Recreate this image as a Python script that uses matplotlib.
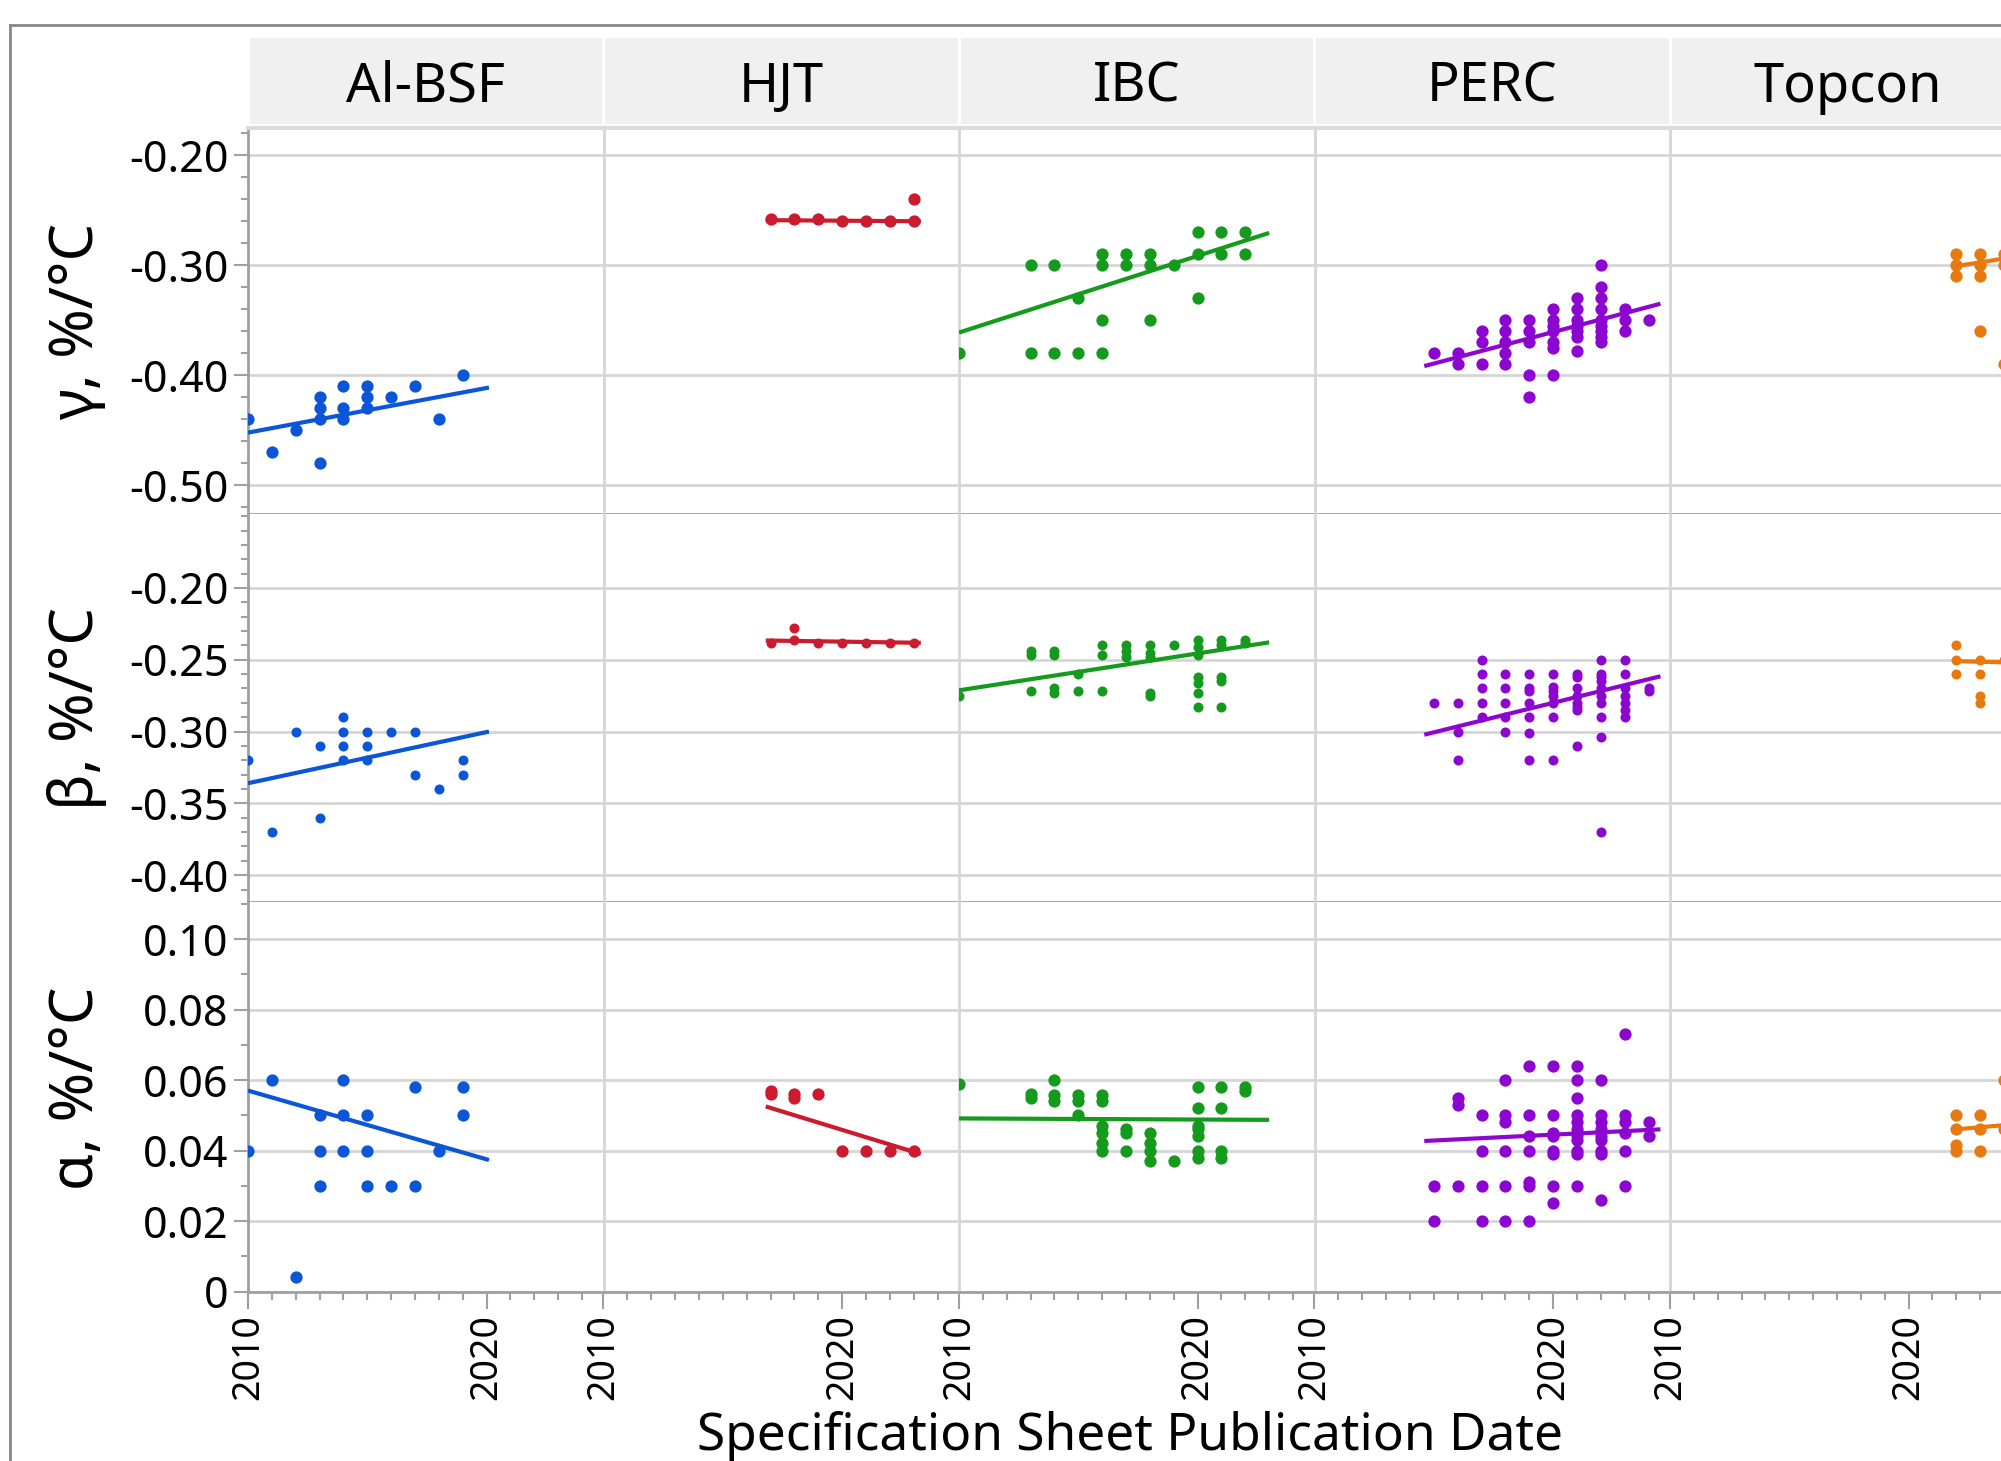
import matplotlib.pyplot as plt
from matplotlib.lines import Line2D
from matplotlib.ticker import MultipleLocator, FixedLocator

plt.rcParams['font.family'] = ['Noto Sans', 'DejaVu Sans']

techs = ['Al-BSF', 'HJT', 'IBC', 'PERC', 'Topcon']
colors = ['#0a56d6', '#cc1a2e', '#149a1c', '#8d06cf', '#e8790c']
row_labels = ['γ, %/°C', 'β, %/°C', 'α, %/°C']

# ---- gamma (Pmax temp. coefficient) ----
albsf_gamma_x = [2010, 2011, 2012, 2013, 2013, 2013, 2013, 2014, 2014, 2014, 2015, 2015, 2015, 2016, 2017, 2018, 2019]
albsf_gamma_y = [-0.44, -0.47, -0.45, -0.42, -0.43, -0.44, -0.48, -0.41, -0.43, -0.44, -0.41, -0.42, -0.43, -0.42, -0.41, -0.44, -0.40]
hjt_gamma_x = [2017, 2018, 2019, 2020, 2021, 2022, 2023, 2023]
hjt_gamma_y = [-0.258, -0.258, -0.258, -0.26, -0.26, -0.26, -0.26, -0.24]
ibc_gamma_x = [2010, 2013, 2013, 2014, 2014, 2015, 2015, 2016, 2016, 2016, 2016, 2017, 2017,
               2018, 2018, 2018, 2019, 2020, 2020, 2020, 2021, 2021, 2022, 2022]
ibc_gamma_y = [-0.38, -0.30, -0.38, -0.30, -0.38, -0.33, -0.38, -0.29, -0.30, -0.35, -0.38, -0.29, -0.30,
               -0.29, -0.30, -0.35, -0.30, -0.27, -0.29, -0.33, -0.27, -0.29, -0.27, -0.29]
perc_gamma_x = [2015, 2016, 2016, 2017, 2017, 2017, 2018, 2018, 2018, 2018, 2018,
                2019, 2019, 2019, 2019, 2019, 2020, 2020, 2020, 2020, 2020, 2020, 2020,
                2021, 2021, 2021, 2021, 2021, 2021, 2021,
                2022, 2022, 2022, 2022, 2022, 2022, 2022, 2022, 2022,
                2023, 2023, 2023, 2024]
perc_gamma_y = [-0.38, -0.38, -0.39, -0.36, -0.37, -0.39, -0.35, -0.36, -0.37, -0.38, -0.39,
                -0.35, -0.36, -0.37, -0.40, -0.42, -0.34, -0.35, -0.355, -0.36, -0.37, -0.375, -0.40,
                -0.33, -0.34, -0.35, -0.355, -0.36, -0.365, -0.378,
                -0.30, -0.32, -0.33, -0.34, -0.35, -0.355, -0.36, -0.365, -0.37,
                -0.34, -0.35, -0.36, -0.35]
topcon_gamma_x = [2022, 2022, 2022, 2023, 2023, 2023, 2023, 2024, 2024, 2024]
topcon_gamma_y = [-0.29, -0.30, -0.31, -0.29, -0.30, -0.31, -0.36, -0.29, -0.30, -0.39]

# ---- beta (Voc temp. coefficient) ----
albsf_beta_x = [2010, 2011, 2012, 2013, 2013, 2014, 2014, 2014, 2014, 2015, 2015, 2015, 2016, 2017, 2017, 2018, 2019, 2019]
albsf_beta_y = [-0.32, -0.37, -0.30, -0.31, -0.36, -0.29, -0.30, -0.31, -0.32, -0.30, -0.31, -0.32, -0.30, -0.30, -0.33, -0.34, -0.32, -0.33]
hjt_beta_x = [2017, 2018, 2018, 2019, 2020, 2021, 2022, 2023]
hjt_beta_y = [-0.238, -0.236, -0.228, -0.238, -0.238, -0.238, -0.238, -0.238]
ibc_beta_x = [2010, 2013, 2013, 2013, 2014, 2014, 2014, 2014, 2015, 2015, 2016, 2016, 2016,
              2017, 2017, 2017, 2018, 2018, 2018, 2018, 2018, 2019,
              2020, 2020, 2020, 2020, 2020, 2020, 2020, 2021, 2021, 2021, 2021, 2021, 2022, 2022]
ibc_beta_y = [-0.275, -0.244, -0.247, -0.272, -0.244, -0.247, -0.270, -0.273, -0.260, -0.272, -0.240, -0.247, -0.272,
              -0.240, -0.244, -0.248, -0.240, -0.245, -0.248, -0.273, -0.275, -0.240,
              -0.236, -0.241, -0.247, -0.262, -0.266, -0.273, -0.283, -0.236, -0.240, -0.262, -0.265, -0.283, -0.236, -0.238]
perc_beta_x = [2015, 2016, 2016, 2016, 2017, 2017, 2017, 2017, 2017, 2018, 2018, 2018, 2018, 2018,
               2019, 2019, 2019, 2019, 2019, 2019, 2019, 2020, 2020, 2020, 2020, 2020, 2020, 2020,
               2021, 2021, 2021, 2021, 2021, 2021, 2021, 2021,
               2022, 2022, 2022, 2022, 2022, 2022, 2022, 2022, 2022, 2022,
               2023, 2023, 2023, 2023, 2023, 2023, 2023, 2024, 2024]
perc_beta_y = [-0.28, -0.28, -0.30, -0.32, -0.25, -0.26, -0.27, -0.28, -0.29, -0.26, -0.27, -0.28, -0.29, -0.30,
               -0.26, -0.27, -0.272, -0.28, -0.29, -0.301, -0.32, -0.26, -0.269, -0.272, -0.275, -0.28, -0.29, -0.32,
               -0.26, -0.262, -0.27, -0.275, -0.28, -0.283, -0.285, -0.31,
               -0.25, -0.26, -0.262, -0.265, -0.27, -0.275, -0.28, -0.29, -0.304, -0.37,
               -0.25, -0.26, -0.27, -0.275, -0.28, -0.285, -0.29, -0.27, -0.272]
topcon_beta_x = [2022, 2022, 2022, 2023, 2023, 2023, 2023, 2024]
topcon_beta_y = [-0.24, -0.25, -0.26, -0.25, -0.26, -0.275, -0.28, -0.25]

# ---- alpha (Isc temp. coefficient) ----
albsf_alpha_x = [2010, 2011, 2012, 2013, 2013, 2013, 2014, 2014, 2014, 2015, 2015, 2015, 2016, 2017, 2017, 2018, 2019, 2019]
albsf_alpha_y = [0.04, 0.06, 0.004, 0.05, 0.04, 0.03, 0.06, 0.05, 0.04, 0.05, 0.04, 0.03, 0.03, 0.058, 0.03, 0.04, 0.058, 0.05]
hjt_alpha_x = [2017, 2017, 2018, 2018, 2019, 2020, 2021, 2022, 2023]
hjt_alpha_y = [0.057, 0.056, 0.056, 0.055, 0.056, 0.04, 0.04, 0.04, 0.04]
ibc_alpha_x = [2010, 2013, 2013, 2014, 2014, 2014, 2015, 2015, 2015, 2016, 2016, 2016, 2016, 2016, 2016,
               2017, 2017, 2017, 2018, 2018, 2018, 2018, 2019,
               2020, 2020, 2020, 2020, 2020, 2020, 2020, 2021, 2021, 2021, 2021, 2022, 2022]
ibc_alpha_y = [0.059, 0.056, 0.055, 0.060, 0.0557, 0.054, 0.0557, 0.054, 0.050, 0.0557, 0.054, 0.047, 0.045, 0.042, 0.040,
               0.046, 0.045, 0.040, 0.045, 0.042, 0.040, 0.037, 0.037,
               0.058, 0.052, 0.047, 0.046, 0.044, 0.040, 0.038, 0.058, 0.052, 0.040, 0.038, 0.058, 0.057]
perc_alpha_x = [2015, 2015, 2016, 2016, 2016, 2017, 2017, 2017, 2017, 2018, 2018, 2018, 2018, 2018, 2018,
                2019, 2019, 2019, 2019, 2019, 2019, 2019, 2020, 2020, 2020, 2020, 2020, 2020, 2020, 2020,
                2021, 2021, 2021, 2021, 2021, 2021, 2021, 2021, 2021, 2021, 2021,
                2022, 2022, 2022, 2022, 2022, 2022, 2022, 2022, 2022,
                2023, 2023, 2023, 2023, 2023, 2023, 2024, 2024]
perc_alpha_y = [0.03, 0.02, 0.055, 0.053, 0.03, 0.05, 0.04, 0.03, 0.02, 0.06, 0.05, 0.048, 0.04, 0.03, 0.02,
                0.064, 0.05, 0.044, 0.04, 0.031, 0.03, 0.02, 0.064, 0.05, 0.045, 0.044, 0.04, 0.039, 0.03, 0.025,
                0.064, 0.06, 0.055, 0.05, 0.048, 0.046, 0.0445, 0.043, 0.04, 0.039, 0.03,
                0.06, 0.05, 0.048, 0.046, 0.044, 0.043, 0.04, 0.039, 0.026,
                0.073, 0.05, 0.048, 0.045, 0.04, 0.03, 0.048, 0.044]
topcon_alpha_x = [2022, 2022, 2022, 2022, 2023, 2023, 2023, 2024, 2024]
topcon_alpha_y = [0.05, 0.046, 0.0415, 0.04, 0.05, 0.046, 0.04, 0.06, 0.046]

# linear fit lines (start year, end year, start value, end value)
fit_gamma = [(2010, 2020.1, -0.452, -0.411), (2016.8, 2023.3, -0.2588, -0.2598), (2010, 2023.0, -0.361, -0.2704),
             (2014.6, 2024.5, -0.3915, -0.3348), (2022, 2024.5, -0.3006, -0.292)]
fit_beta = [(2010, 2020.1, -0.336, -0.300), (2016.8, 2023.3, -0.2366, -0.2382), (2010, 2023.0, -0.2713, -0.2379),
            (2014.6, 2024.5, -0.3022, -0.2615), (2022, 2024.5, -0.251, -0.252)]
fit_alpha = [(2010, 2020.1, 0.057, 0.0373), (2016.8, 2023.3, 0.0525, 0.0390), (2010, 2023.0, 0.0491, 0.0487),
             (2014.6, 2024.5, 0.0427, 0.046), (2022, 2024.5, 0.046, 0.0475)]

rows = [
    [(albsf_gamma_x, albsf_gamma_y), (hjt_gamma_x, hjt_gamma_y), (ibc_gamma_x, ibc_gamma_y),
     (perc_gamma_x, perc_gamma_y), (topcon_gamma_x, topcon_gamma_y)],
    [(albsf_beta_x, albsf_beta_y), (hjt_beta_x, hjt_beta_y), (ibc_beta_x, ibc_beta_y),
     (perc_beta_x, perc_beta_y), (topcon_beta_x, topcon_beta_y)],
    [(albsf_alpha_x, albsf_alpha_y), (hjt_alpha_x, hjt_alpha_y), (ibc_alpha_x, ibc_alpha_y),
     (perc_alpha_x, perc_alpha_y), (topcon_alpha_x, topcon_alpha_y)],
]
fits = [fit_gamma, fit_beta, fit_alpha]

ylims = [(-0.526, -0.175), (-0.4187, -0.1485), (0.0, 0.1105)]
yticks = [[-0.50, -0.40, -0.30, -0.20],
          [-0.40, -0.35, -0.30, -0.25, -0.20],
          [0.0, 0.02, 0.04, 0.06, 0.08, 0.10]]
yminor = [0.02, 0.01, 0.01]
msize = [78, 52, 78]

W, H = 2001, 1461
fig = plt.figure(figsize=(W / 100, H / 100), dpi=100)

col_left = [248, 603.5, 959, 1314.5, 1670]
col_w = 355.5
row_top = [128, 514, 902]
row_h = [386, 388, 389.5]

grid_c = '#d6d6d6'
dark_c = '#a0a0a0'

for r in range(3):
    for c in range(5):
        ax = fig.add_axes([col_left[c] / W, 1 - (row_top[r] + row_h[r]) / H, col_w / W, row_h[r] / H])
        xs, ys = rows[r][c]
        ax.scatter(xs, ys, s=msize[r], color=colors[c], linewidths=0, zorder=3)
        x0, x1, y0, y1 = fits[r][c]
        ax.plot([x0, x1], [y0, y1], color=colors[c], lw=3, zorder=4, solid_capstyle='butt')

        ax.set_xlim(2010, 2024.9)
        ax.set_ylim(*ylims[r])
        ax.yaxis.set_major_locator(FixedLocator(yticks[r]))
        ax.yaxis.set_minor_locator(MultipleLocator(yminor[r]))
        ax.xaxis.set_major_locator(FixedLocator([2010, 2020]))
        ax.xaxis.set_minor_locator(MultipleLocator(1))
        ax.yaxis.grid(True, which='major', color=grid_c, lw=2)
        ax.set_axisbelow(True)

        for s in ['top', 'right']:
            ax.spines[s].set_visible(False)
        ax.spines['left'].set_color(dark_c if c == 0 else grid_c)
        ax.spines['left'].set_linewidth(2)
        ax.spines['bottom'].set_color(dark_c)
        ax.spines['bottom'].set_linewidth(2)
        if r == 0:
            ax.spines['top'].set_visible(True)
            ax.spines['top'].set_color('#dedbd2')
            ax.spines['top'].set_linewidth(3)

        if c == 0:
            ax.tick_params(axis='y', which='major', direction='out', length=10, width=1.5,
                           color=dark_c, labelsize=31, pad=4)
            ax.tick_params(axis='y', which='minor', direction='out', length=5, width=1.5, color=dark_c)
            ax.set_yticklabels(['{:.2f}'.format(v) if abs(v) > 1e-9 else '0' for v in yticks[r]])
        else:
            ax.tick_params(axis='y', which='both', left=False, labelleft=False)

        if r == 2:
            ax.tick_params(axis='x', which='major', direction='out', length=12, width=1.5,
                           color=dark_c, labelsize=27, labelrotation=90, pad=4)
            ax.tick_params(axis='x', which='minor', direction='out', length=6, width=1.5, color=dark_c)
        else:
            ax.tick_params(axis='x', which='both', bottom=False, labelbottom=False)

# facet headers
for c, name in enumerate(techs):
    hax = fig.add_axes([(col_left[c] + 1.5) / W, 1 - 124 / H, (col_w - 3) / W, 86 / H])
    hax.set_facecolor('#f0f0f0')
    hax.set_xticks([])
    hax.set_yticks([])
    for s in hax.spines.values():
        s.set_visible(False)
    hax.text(0.5, 0.43, name, ha='center', va='center', fontsize=39, transform=hax.transAxes)

# row labels
row_centers = [321, 708, 1088]
for r, lab in enumerate(row_labels):
    fig.text(77 / W, 1 - row_centers[r] / H, lab, rotation=90, ha='center', va='center', fontsize=43)

fig.text(1130 / W, 1 - 1436 / H, 'Specification Sheet Publication Date', ha='center', va='center', fontsize=37)

# outer frame
fig.add_artist(Line2D([10 / W, 1], [1 - 25 / H, 1 - 25 / H], color='#888888', lw=2))
fig.add_artist(Line2D([10 / W, 10 / W], [0, 1 - 25 / H], color='#888888', lw=2))

fig.savefig('out.png', dpi=100)
